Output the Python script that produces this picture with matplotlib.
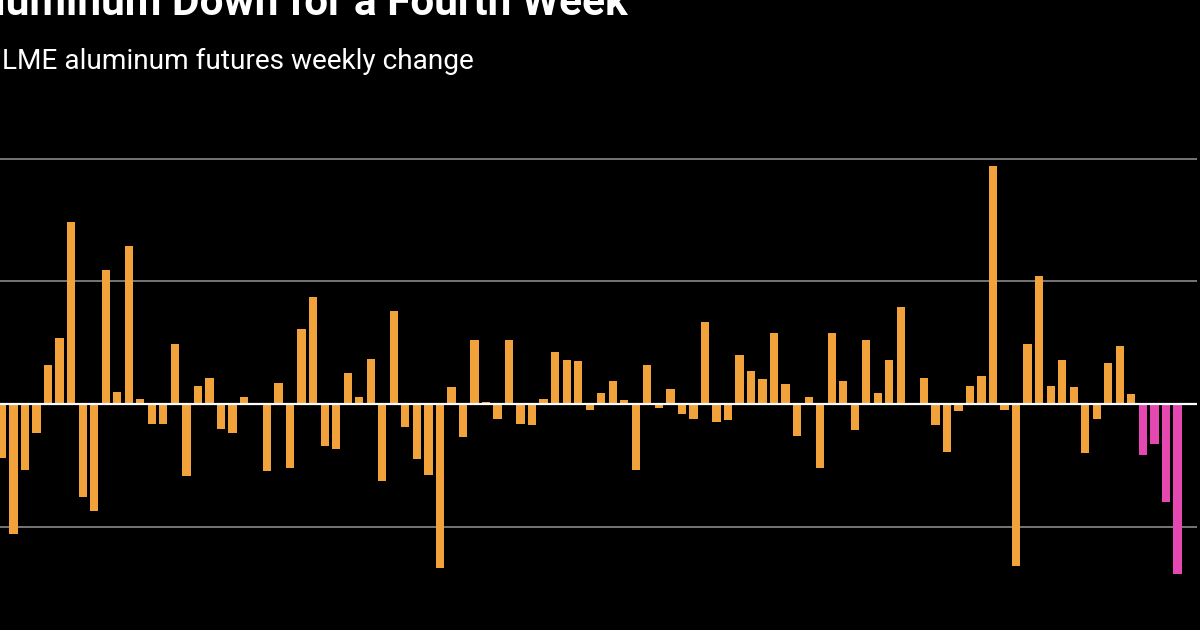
import matplotlib
matplotlib.use("Agg")
import matplotlib.pyplot as plt

# weekly % change (oldest first)
changes = [
    -2.2, -5.3, -2.7, -1.2, 1.6, 2.7, 7.4, -3.8, -4.35, 5.45,
    0.5, 6.45, 0.2, -0.8, -0.8, 2.45, -2.95, 0.75, 1.05, -1.0,
    -1.2, 0.3, -0.02, -2.75, 0.85, -2.6, 3.05, 4.35, -1.7, -1.85,
    1.25, 0.3, 1.85, -3.15, 3.8, -0.95, -2.25, -2.9, -6.7, 0.7,
    -1.35, 2.6, 0.1, -0.6, 2.6, -0.8, -0.85, 0.2, 2.1, 1.8,
    1.75, -0.25, 0.45, 0.95, 0.15, -2.7, 1.6, -0.15, 0.6, -0.4,
    -0.6, 3.35, -0.75, -0.65, 2.0, 1.35, 1.0, 2.9, 0.8, -1.3,
    0.3, -2.6, 2.9, 0.95, -1.05, 2.6, 0.45, 1.8, 3.95, -0.05,
    1.05, -0.85, -1.95, -0.3, 0.75, 1.15, 9.7, -0.25, -6.6, 2.45,
    5.2, 0.75, 1.8, 0.7, -2.0, -0.6, 1.65, 2.35, 0.4, -2.1,
    -1.65, -4.0, -6.95,
]
n_recent = 4  # the latest losing streak, drawn in pink
grid_levels = [-5, 5, 10]

orange = "#F2A23B"
pink = "#E548B1"

fig = plt.figure(figsize=(12, 6.3), dpi=100, facecolor="black")
ax = fig.add_axes([-9.5 / 1200, 0.0667, 1206.5 / 1200, 0.701])
ax.set_facecolor("black")

x = list(range(len(changes)))
colors = [orange] * (len(changes) - n_recent) + [pink] * n_recent
ax.bar(x, changes, width=0.72, color=colors, zorder=2)

for g in grid_levels:
    ax.axhline(g, color="#8a8a8a", lw=1.2, zorder=1)
ax.axhline(0, color="white", lw=1.6, zorder=3)

ax.set_xlim(-1, 103.7)
ax.set_ylim(-7.5, 10.5)
ax.axis("off")

# the reference picture is cropped: title runs off the top-left corner
fig.text(628 / 1200, (630 - 15) / 630, "Aluminum Down for a Fourth Week",
         color="white", fontsize=30.5, fontweight="bold", family="Roboto",
         ha="right", va="baseline")
fig.text(2 / 1200, (630 - 69) / 630, "LME aluminum futures weekly change",
         color="white", fontsize=20.2, family="Roboto",
         ha="left", va="baseline")

fig.savefig("out.png", dpi=100, facecolor="black")
